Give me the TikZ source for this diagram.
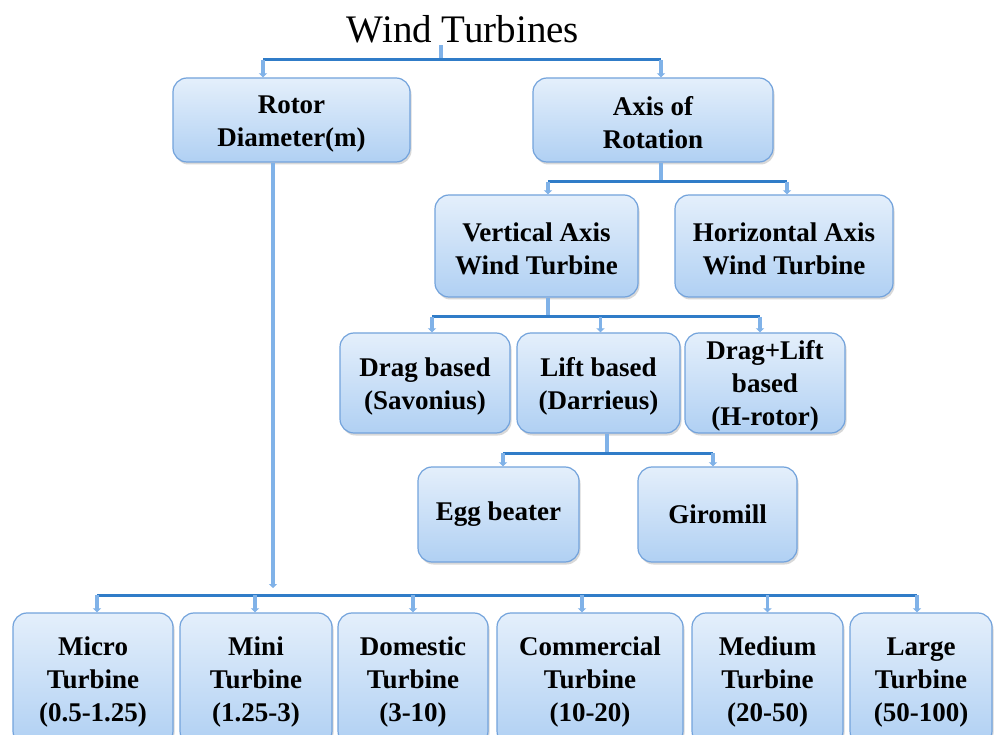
\documentclass[tikz,border=0pt]{standalone}
\usepackage{fontspec}
\setmainfont{Liberation Serif}
\usetikzlibrary{shadows,arrows.meta}
\definecolor{boxtop}{RGB}{228,239,251}
\definecolor{boxbot}{RGB}{176,208,243}
\definecolor{boxline}{RGB}{115,163,220}
\definecolor{barblue}{RGB}{48,124,200}
\definecolor{stubblue}{RGB}{128,178,232}
\newcommand{\fstrut}{\rule{0pt}{25pt}}
\begin{document}
\begin{tikzpicture}[x=1pt,y=-1pt,
  box/.style={rounded corners=14pt, top color=boxtop, bottom color=boxbot,
    draw=boxline, line width=1.2pt,
    drop shadow={opacity=0.3,shadow xshift=1.5pt,shadow yshift=-2.5pt},
    align=center, inner sep=0pt, font=\bfseries\fontsize{27}{33}\selectfont},
  bar/.style={draw=barblue, line width=3pt},
  stubline/.style={draw=stubblue, line width=3.5pt},
  stub/.style={stubline, -{Triangle[length=4pt,width=8pt]}},
]
\useasboundingbox (0,0) rectangle (994,735);
\fill[white] (0,0) rectangle (994,735);

% title
\node[font=\fontsize{39}{44}\selectfont, inner sep=0pt] (title) at (463,29) {Wind Turbines};

% level 1
\node[box, minimum width=237, minimum height=84] (rotor) at (291.5,120) {\fstrut Rotor\\Diameter(m)};
\node[box, minimum width=240, minimum height=84] (axis) at (653,120) {\fstrut Axis of\\Rotation};

% level 2
\node[box, minimum width=203, minimum height=102] (vawt) at (536.5,246) {\fstrut Vertical Axis\\Wind Turbine};
\node[box, minimum width=218, minimum height=102] (hawt) at (784,246) {\fstrut Horizontal Axis\\Wind Turbine};

% level 3
\node[box, minimum width=170, minimum height=100] (drag) at (425,383) {\fstrut Drag based\\(Savonius)};
\node[box, minimum width=163, minimum height=100] (lift) at (598.5,383) {\fstrut Lift based\\(Darrieus)};
\node[box, minimum width=160, minimum height=100] (dl) at (765,383) {\fstrut Drag+Lift\\based\\(H-rotor)};

% level 4
\node[box, minimum width=161, minimum height=95] (egg) at (498.5,514.5) {Egg beater};
\node[box, minimum width=159, minimum height=95] (giro) at (717.5,514.5) {Giromill};

% bottom row
\node[box, minimum width=160, minimum height=132] (micro) at (93,679) {\fstrut Micro\\Turbine\\(0.5-1.25)};
\node[box, minimum width=152, minimum height=132] (mini) at (256,679) {\fstrut Mini\\Turbine\\(1.25-3)};
\node[box, minimum width=150, minimum height=132] (dom) at (413,679) {\fstrut Domestic\\Turbine\\(3-10)};
\node[box, minimum width=186, minimum height=132] (comm) at (590,679) {\fstrut Commercial\\Turbine\\(10-20)};
\node[box, minimum width=151, minimum height=132] (med) at (767.5,679) {\fstrut Medium\\Turbine\\(20-50)};
\node[box, minimum width=142, minimum height=132] (large) at (921,679) {\fstrut Large\\Turbine\\(50-100)};

% junction coordinates
\coordinate (j1) at (441,60);
\coordinate (j2) at (661,182);
\coordinate (j3) at (548,317);
\coordinate (j4) at (607,453);
\coordinate (j5) at (273,595);

% group 1
\draw[stubline] ([yshift=-2]title.south -| j1) -- (j1);
\draw[bar] ([xshift=-28.5]rotor.north |- j1) -- ([xshift=8]axis.north |- j1);
\draw[stub] ([xshift=-28.5]rotor.north |- j1) -- ([xshift=-28.5]rotor.north);
\draw[stub] ([xshift=8]axis.north |- j1) -- ([xshift=8]axis.north);

% group 2
\draw[stubline] ([xshift=8]axis.south) -- (j2);
\draw[bar] ([xshift=11.5]vawt.north |- j2) -- ([xshift=3]hawt.north |- j2);
\draw[stub] ([xshift=11.5]vawt.north |- j2) -- ([xshift=11.5]vawt.north);
\draw[stub] ([xshift=3]hawt.north |- j2) -- ([xshift=3]hawt.north);

% group 3
\draw[stubline] ([xshift=11.5]vawt.south) -- (j3);
\draw[bar] ([xshift=7]drag.north |- j3) -- ([xshift=-5]dl.north |- j3);
\draw[stub] ([xshift=7]drag.north |- j3) -- ([xshift=7]drag.north);
\draw[stub] ([xshift=2]lift.north |- j3) -- ([xshift=2]lift.north);
\draw[stub] ([xshift=-5]dl.north |- j3) -- ([xshift=-5]dl.north);

% group 4
\draw[stubline] ([xshift=8.5]lift.south) -- (j4);
\draw[bar] ([xshift=4.5]egg.north |- j4) -- ([xshift=-4.5]giro.north |- j4);
\draw[stub] ([xshift=4.5]egg.north |- j4) -- ([xshift=4.5]egg.north);
\draw[stub] ([xshift=-4.5]giro.north |- j4) -- ([xshift=-4.5]giro.north);

% group 5
\draw[stub] ([xshift=-18.5]rotor.south) -- ([yshift=7]j5);
\draw[bar] ([xshift=4]micro.north |- j5) -- ([xshift=-4]large.north |- j5);
\draw[stub] ([xshift=4]micro.north |- j5) -- ([xshift=4]micro.north);
\draw[stub] ([xshift=-1]mini.north |- j5) -- ([xshift=-1]mini.north);
\draw[stub] (dom.north |- j5) -- (dom.north);
\draw[stub] ([xshift=-8]comm.north |- j5) -- ([xshift=-8]comm.north);
\draw[stub] (med.north |- j5) -- (med.north);
\draw[stub] ([xshift=-4]large.north |- j5) -- ([xshift=-4]large.north);
\end{tikzpicture}
\end{document}
